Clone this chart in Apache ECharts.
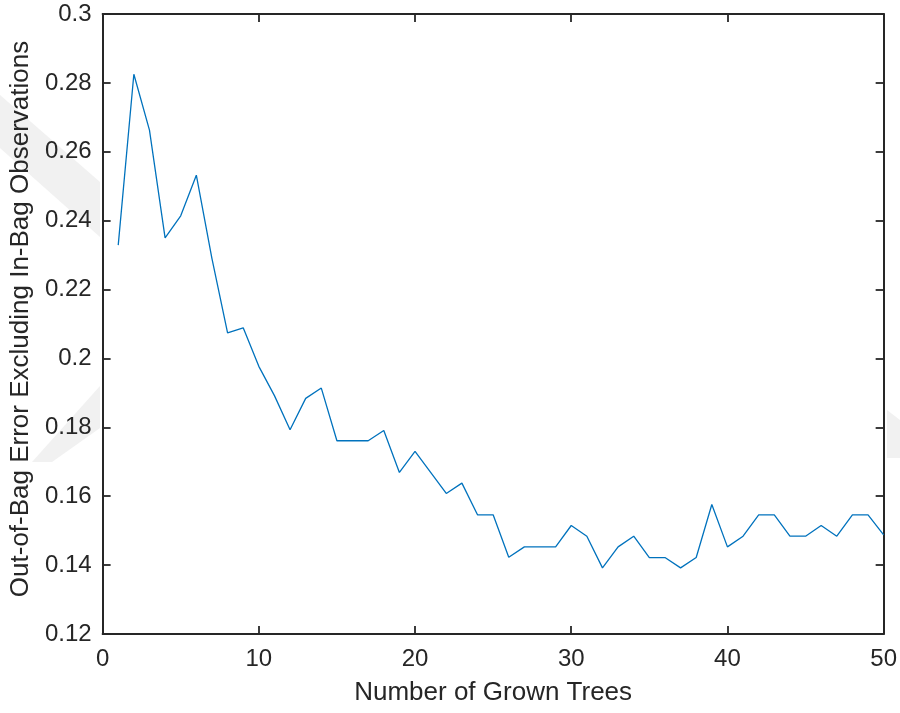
<!DOCTYPE html>
<html>
<head>
<meta charset="utf-8">
<title>Out-of-Bag Error vs. Number of Grown Trees</title>
<script src="https://cdn.jsdelivr.net/npm/echarts@6/dist/echarts.min.js"></script>
<style>
  html, body { margin: 0; padding: 0; background: #ffffff; }
  #chart { width: 900px; height: 713px; }
</style>
</head>
<body>
<div id="chart"></div>
<script>
// Number of grown trees (x) and the out-of-bag error after each tree (y)
const grownTrees = [
  1, 2, 3, 4, 5, 6, 7, 8, 9, 10,
  11, 12, 13, 14, 15, 16, 17, 18, 19, 20,
  21, 22, 23, 24, 25, 26, 27, 28, 29, 30,
  31, 32, 33, 34, 35, 36, 37, 38, 39, 40,
  41, 42, 43, 44, 45, 46, 47, 48, 49, 50
];
const oobError = [
  0.2329, 0.2825, 0.2663, 0.2350, 0.2414, 0.2532, 0.2290, 0.2074, 0.2089, 0.1977,
  0.1892, 0.1793, 0.1884, 0.1914, 0.1761, 0.1761, 0.1761, 0.1791, 0.1669, 0.1730,
  0.1669, 0.1608, 0.1638, 0.1546, 0.1546, 0.1423, 0.1453, 0.1453, 0.1453, 0.1515,
  0.1484, 0.1392, 0.1453, 0.1484, 0.1422, 0.1422, 0.1392, 0.1422, 0.1576, 0.1453,
  0.1484, 0.1546, 0.1546, 0.1484, 0.1484, 0.1515, 0.1484, 0.1546, 0.1546, 0.1488
];
const xTicks = [0, 10, 20, 30, 40, 50];
const yTicks = [0.12, 0.14, 0.16, 0.18, 0.2, 0.22, 0.24, 0.26, 0.28, 0.3];

const axisColor = '#262626';
const fontFamily = '"Liberation Sans", Arial, Helvetica, sans-serif';

const seriesData = grownTrees.map((n, i) => [n, oobError[i]]);

const baseAxis = {
  type: 'value',
  axisLine: { show: true, onZero: false, lineStyle: { color: axisColor, width: 2 } },
  axisTick: { show: true, inside: true, length: 8, lineStyle: { color: axisColor, width: 1.8 } },
  splitLine: { show: false },
  axisLabel: { show: false }
};

const xRange = { min: xTicks[0], max: xTicks[xTicks.length - 1], interval: xTicks[1] - xTicks[0] };
const yRange = { min: yTicks[0], max: yTicks[yTicks.length - 1], interval: 0.02 };

const chart = echarts.init(document.getElementById('chart'), null, { renderer: 'canvas' });

chart.setOption({
  backgroundColor: '#ffffff',
  animation: false,
  // faint grey shapes in the margins outside the plot box
  graphic: [
    { type: 'polygon', z: -10, silent: true,
      shape: { points: [[0, 95], [100, 182], [100, 237], [0, 148]] },
      style: { fill: '#f1f1f1' } },
    { type: 'polygon', z: -10, silent: true,
      shape: { points: [[100, 386], [100, 428], [52, 462], [32, 462]] },
      style: { fill: '#f1f1f1' } },
    { type: 'polygon', z: -10, silent: true,
      shape: { points: [[887, 410], [900, 420], [900, 458], [887, 458]] },
      style: { fill: '#f1f1f1' } }
  ],
  grid: {
    left: 101, right: 14, top: 14, bottom: 79,
    show: true, backgroundColor: '#ffffff', borderWidth: 0
  },
  xAxis: [
    Object.assign({}, baseAxis, xRange, {
      position: 'bottom',
      name: 'Number of Grown Trees',
      nameLocation: 'middle',
      nameGap: 46,
      nameTextStyle: { fontFamily, fontSize: 26, color: axisColor },
      axisLabel: { show: true, margin: 13, fontFamily, fontSize: 24, color: axisColor }
    }),
    Object.assign({}, baseAxis, xRange, { position: 'top' })
  ],
  yAxis: [
    Object.assign({}, baseAxis, yRange, {
      position: 'left',
      name: 'Out-of-Bag Error Excluding In-Bag Observations',
      nameLocation: 'middle',
      nameGap: 64,
      nameTextStyle: { fontFamily, fontSize: 26, color: axisColor, padding: [0, 0, 0, 10] },
      axisLabel: {
        show: true, margin: 11, fontFamily, fontSize: 24, color: axisColor,
        formatter: v => String(Math.round(v * 100) / 100)
      }
    }),
    Object.assign({}, baseAxis, yRange, { position: 'right' })
  ],
  series: [{
    type: 'line',
    data: seriesData,
    xAxisIndex: 0,
    yAxisIndex: 0,
    showSymbol: false,
    symbol: 'none',
    lineStyle: { color: '#0072BD', width: 1.3 },
    z: 3
  }]
});
</script>
</body>
</html>
